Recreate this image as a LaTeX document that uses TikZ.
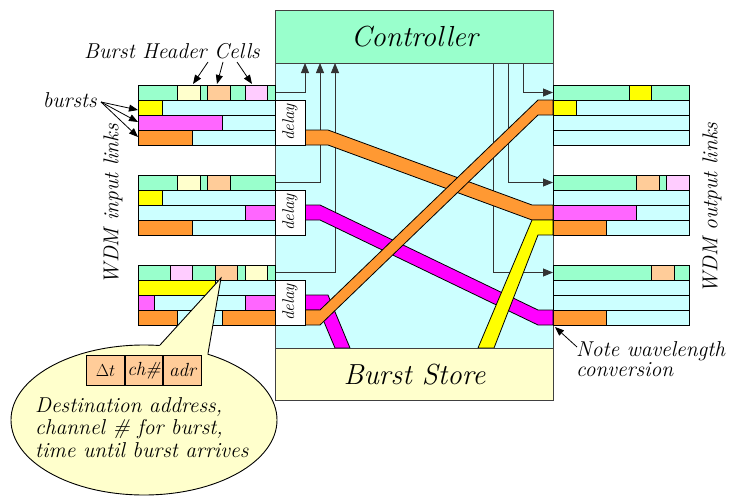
\documentclass[tikz,border=0pt]{standalone}
\usetikzlibrary{arrows.meta,positioning,shapes.geometric,calc}
\definecolor{hdrgreen}{RGB}{153,255,204}
\definecolor{linkcyan}{RGB}{204,255,255}
\definecolor{cellcream}{RGB}{255,255,204}
\definecolor{cellpeach}{RGB}{255,204,153}
\definecolor{cellpink}{RGB}{255,204,255}
\definecolor{burstyellow}{RGB}{255,255,0}
\definecolor{burstmag}{RGB}{255,102,255}
\definecolor{bandmag}{RGB}{255,0,255}
\definecolor{burstorange}{RGB}{255,153,51}

\begin{document}
\begin{tikzpicture}[x=1pt,y=-1pt,
  linkrow/.style={draw, line width=0.9pt, fill=linkcyan},
  cellbox/.style={draw, line width=0.9pt},
  band/.style={draw, line width=0.8pt},
  sig/.style={draw=black!80, line width=0.8pt},
  sigarrow/.style={sig, -{Triangle[length=10pt,width=8pt]}},
  ptr/.style={line width=0.8pt, -{Triangle[length=9pt,width=7pt]}},
  delaybox/.style={draw, fill=white, line width=0.8pt, rotate=90, minimum width=45pt, minimum height=30pt, inner sep=0pt, font=\fontsize{17}{17}\selectfont\itshape},
  bigbox/.style={draw=black!75, line width=0.9pt, anchor=north west, minimum width=278pt, inner sep=0pt, font=\fontsize{29}{30}\selectfont\itshape},
  lbl/.style={font=\fontsize{21.5}{20}\selectfont\itshape, inner sep=0pt},
  tcell/.style={draw, fill=cellpeach, line width=0.8pt, minimum width=37.7pt, minimum height=30.7pt, inner sep=0pt, font=\fontsize{19}{19}\selectfont\itshape}
]
\useasboundingbox (0,0) rectangle (730,495);

% switch fabric
\draw[draw=black!75, line width=0.9pt, fill=linkcyan] (275,63) rectangle (553,348);

% control signals
\coordinate (inH1) at (275,92.5);
\coordinate (inH2) at (275,182.5);
\coordinate (inH3) at (275,272.5);
\coordinate (outH1) at (553,92.5);
\coordinate (outH2) at (553,182.5);
\coordinate (outH3) at (553,272.5);
\coordinate (ctl1) at (305,63);
\coordinate (ctl2) at (320,63);
\coordinate (ctl3) at (335,63);
\coordinate (ctl4) at (493,63);
\coordinate (ctl5) at (508,63);
\coordinate (ctl6) at (523,63);
\draw[sigarrow] (inH1) -| (ctl1);
\draw[sigarrow] (inH2) -| (ctl2);
\draw[sigarrow] (inH3) -| (ctl3);
\draw[sigarrow] (ctl6) |- (outH1);
\draw[sigarrow] (ctl5) |- (outH2);
\draw[sigarrow] (ctl4) |- (outH3);

% input and output links
\foreach \y in {85,175,265} {
  \draw[cellbox, fill=hdrgreen] (138,\y) rectangle (275,\y+15);
  \draw[cellbox, fill=hdrgreen] (553,\y) rectangle (689,\y+15);
  \foreach \k in {1,2,3} {
    \draw[linkrow] (138,\y+15*\k) rectangle (275,\y+15*\k+15);
    \draw[linkrow] (553,\y+15*\k) rectangle (689,\y+15*\k+15);
  }
}

% input link 1
\draw[cellbox, fill=cellcream] (177.7,85) rectangle (200,100);
\draw[cellbox, fill=cellpeach] (207.7,85) rectangle (230,100);
\draw[cellbox, fill=cellpink] (245,85) rectangle (267,100);
\draw[cellbox, fill=burstyellow] (138,100) rectangle (162,115);
\draw[cellbox, fill=burstmag] (138,115) rectangle (222,130);
\draw[cellbox, fill=burstorange] (138,130) rectangle (192,145);
% input link 2
\draw[cellbox, fill=cellcream] (177.7,175) rectangle (200,190);
\draw[cellbox, fill=cellpeach] (207.7,175) rectangle (230,190);
\draw[cellbox, fill=burstyellow] (138,190) rectangle (162,205);
\draw[cellbox, fill=burstmag] (245,205) rectangle (275,220);
\draw[cellbox, fill=burstorange] (138,220) rectangle (192,235);
% input link 3
\draw[cellbox, fill=cellpink] (170,265) rectangle (192,280);
\draw[cellbox, fill=cellpeach] (215,265) rectangle (237,280);
\draw[cellbox, fill=cellcream] (245,265) rectangle (267,280);
\draw[cellbox, fill=burstyellow] (138,280) rectangle (215,295);
\draw[cellbox, fill=burstmag] (138,295) rectangle (154,310);
\draw[cellbox, fill=burstmag] (245,295) rectangle (275,310);
\draw[cellbox, fill=burstorange] (138,310) rectangle (177,325);
\draw[cellbox, fill=burstorange] (222,310) rectangle (275,325);

% output link 1
\draw[cellbox, fill=burstyellow] (629,85) rectangle (651.7,100);
\draw[cellbox, fill=burstyellow] (553,100) rectangle (576,115);
% output link 2
\draw[cellbox, fill=cellpeach] (636.7,175) rectangle (659,190);
\draw[cellbox, fill=cellpink] (666.7,175) rectangle (689,190);
\draw[cellbox, fill=burstmag] (553,205) rectangle (636.7,220);
\draw[cellbox, fill=burstorange] (553,220) rectangle (606.7,235);
% output link 3
\draw[cellbox, fill=cellpeach] (651.7,265) rectangle (674.3,280);
\draw[cellbox, fill=burstorange] (553,310) rectangle (606.7,325);

% bursts through the fabric
\draw[band, fill=bandmag] (305,295) -- (328,295) -- (350,348) -- (335,348) -- (319,310) -- (305,310) -- cycle;
\draw[band, fill=bandmag] (305,205) -- (320,205) -- (538,310) -- (553,310) -- (553,325) -- (538,325) -- (320,220) -- (305,220) -- cycle;
\draw[band, fill=burstorange] (305,130) -- (328,130) -- (532,205) -- (553,205) -- (553,220) -- (532,220) -- (328,145) -- (305,145) -- cycle;
\draw[band, fill=burstyellow] (478,348) -- (532,220) -- (553,220) -- (553,235) -- (538,235) -- (494,348) -- cycle;
\draw[band, fill=burstorange] (305,310) -- (320,310) -- (538,100) -- (553,100) -- (553,115) -- (538,115) -- (320,325) -- (305,325) -- cycle;

% delay lines
\node[delaybox] (dly1) at (290,122.5) {delay};
\node[delaybox] (dly2) at (290,212.5) {delay};
\node[delaybox] (dly3) at (290,302.5) {delay};

\node[bigbox, fill=hdrgreen, minimum height=53pt] (ctrl) at (275,10) {Controller};
\node[bigbox, fill=cellcream, minimum height=52pt] (store) at (275,348) {Burst Store};

% labels
\node[lbl] (bhc) at (172,51) {Burst Header Cells};
\coordinate (bhc1) at (208,62);
\coordinate (bhc2) at (223,62);
\coordinate (bhc3) at (237,62);
\coordinate (hc1) at (193,84);
\coordinate (hc2) at (217,84);
\coordinate (hc3) at (252,84);
\draw[ptr] (bhc1) -- (hc1);
\draw[ptr] (bhc2) -- (hc2);
\draw[ptr] (bhc3) -- (hc3);

\node[lbl, anchor=east] (bursts) at (97,100) {bursts};
\coordinate (bsrc) at (101,102);
\coordinate (b2) at (138,110);
\coordinate (b3) at (138,122);
\coordinate (b4) at (138,137);
\draw[ptr] (bsrc) -- (b2);
\draw[ptr] (bsrc) -- (b3);
\draw[ptr] (bsrc) -- (b4);

\node[lbl, rotate=90] (inlinks) at (113,204) {WDM input links};
\node[lbl, rotate=90] (outlinks) at (712,208) {WDM output links};

\node[lbl, anchor=north west, align=left] (note) at (576,341) {Note wavelength\\conversion};
\coordinate (nsrc) at (577,347);
\coordinate (nend) at (555,327);
\draw[ptr] (nsrc) -- (nend);

% header cell callout
\node[ellipse, draw, fill=cellcream, line width=0.9pt, minimum width=266pt, minimum height=150pt, inner sep=0pt] (callout) at (144,420) {};
\coordinate (tip) at (221,278);
\fill[cellcream] (callout.78) -- (tip) -- (callout.46) -- (callout.center) -- cycle;
\draw[line width=0.9pt] (callout.78) -- (tip) -- (callout.46);
\node[tcell] (dt) at (105.5,370.3) {$\Delta t$};
\node[tcell, right=0pt of dt] (chn) {ch\#};
\node[tcell, right=0pt of chn] (adr) {adr};
\node[lbl, anchor=north west, align=left, font=\fontsize{21.5}{22.5}\selectfont\itshape] (desc) at (35,397) {Destination address,\\channel \# for burst,\\time until burst arrives};
\end{tikzpicture}
\end{document}
